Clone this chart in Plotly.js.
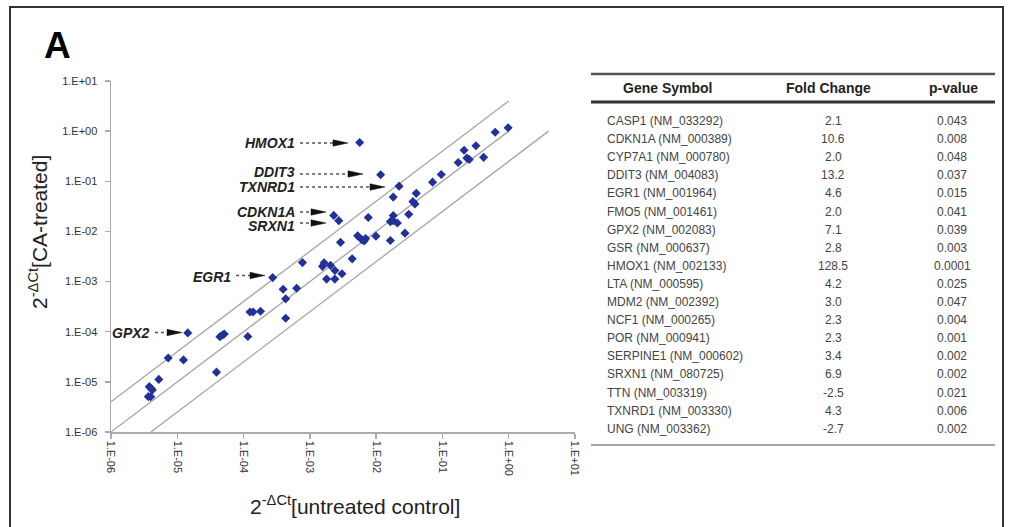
<!DOCTYPE html>
<html>
<head>
<meta charset="utf-8">
<script src="https://cdn.plot.ly/plotly-3.0.1.min.js"></script>
<style>html,body{margin:0;padding:0;background:#fff;}#chart{width:1010px;height:527px;}</style>
</head>
<body>
<div id="chart"></div>
<script>
// ---- Data ----
const untreatedControl = [0.98, 0.625, 0.32, 0.212, 0.173, 0.234, 0.254, 0.418, 0.096, 0.071,
  0.0117, 0.0222, 0.0403, 0.0181, 0.0359, 0.0385, 0.00564, 0.00229, 0.00273, 0.0076,
  0.0181, 0.031, 0.0164, 0.0181, 0.0209, 0.00526, 0.00611, 0.00662, 0.00695, 0.00993,
  0.0164, 0.0272, 0.0029, 0.00435, 0.00155, 0.00164, 0.00205, 0.00239, 0.00305, 0.00238,
  0.00179, 0.000773, 0.000275, 0.000395, 0.000632, 0.000432, 0.000432, 0.000125, 0.000139, 0.00018,
  0.000116, 0.000044, 0.0000484, 0.0000512, 0.000039, 0.0000144, 0.0000124, 0.0000073, 0.00000526, 0.00000378,
  0.00000401, 0.0000042, 0.00000366, 0.00000397];
const caTreated = [1.17, 0.95, 0.51, 0.416, 0.237, 0.29, 0.272, 0.30, 0.137, 0.096,
  0.135, 0.080, 0.0575, 0.0484, 0.0395, 0.0352, 0.594, 0.0209, 0.0164, 0.0189,
  0.0207, 0.0219, 0.0157, 0.0163, 0.0147, 0.00816, 0.00679, 0.00649, 0.00721, 0.00805,
  0.00658, 0.00925, 0.00605, 0.00284, 0.00201, 0.00236, 0.0021, 0.00166, 0.00143, 0.00112,
  0.00112, 0.00239, 0.0012, 0.000705, 0.000738, 0.000452, 0.000186, 0.000248, 0.000248, 0.000256,
  0.0000805, 0.0000798, 0.0000863, 0.0000903, 0.0000156, 0.0000946, 0.0000274, 0.00003, 0.0000112, 0.00000802,
  0.00000745, 0.00000689, 0.00000507, 0.00000507];

const foldLines = [4, 1, 0.25];

const tickValues = [1e-6, 1e-5, 1e-4, 1e-3, 1e-2, 1e-1, 1, 10];
const tickLabels = ['1.E-06', '1.E-05', '1.E-04', '1.E-03', '1.E-02', '1.E-01', '1.E+00', '1.E+01'];

const labelledGenes = ['HMOX1', 'DDIT3', 'TXNRD1', 'CDKN1A', 'SRXN1', 'EGR1', 'GPX2'];

const tableGenes = ['CASP1 (NM_033292)', 'CDKN1A (NM_000389)', 'CYP7A1 (NM_000780)', 'DDIT3 (NM_004083)',
  'EGR1 (NM_001964)', 'FMO5 (NM_001461)', 'GPX2 (NM_002083)', 'GSR (NM_000637)', 'HMOX1 (NM_002133)',
  'LTA (NM_000595)', 'MDM2 (NM_002392)', 'NCF1 (NM_000265)', 'POR (NM_000941)', 'SERPINE1 (NM_000602)',
  'SRXN1 (NM_080725)', 'TTN (NM_003319)', 'TXNRD1 (NM_003330)', 'UNG (NM_003362)'];
const foldChange = ['2.1', '10.6', '2.0', '13.2', '4.6', '2.0', '7.1', '2.8', '128.5', '4.2', '3.0', '2.3',
  '2.3', '3.4', '6.9', '-2.5', '4.3', '-2.7'];
const pValue = ['0.043', '0.008', '0.048', '0.037', '0.015', '0.041', '0.039', '0.003', '0.0001', '0.025',
  '0.047', '0.004', '0.001', '0.002', '0.002', '0.021', '0.006', '0.002'];
const tableHeaders = ['Gene Symbol', 'Fold Change', 'p-value'];

// ---- Layout helpers (pixel -> paper) ----
const W = 1010, H = 527;
const px = x => x / W;
const py = y => 1 - y / H;
const FONT = 'Liberation Sans, Arial, sans-serif';

// label placement (pixels): text right edge, text y, line start, head start, head end, arrow y
const labelPos = {
  HMOX1: [297, 143, 300, 333, 348, 143],
  DDIT3: [297, 172, 300, 348, 363, 174],
  TXNRD1: [297, 187, 300, 370, 385, 187],
  CDKN1A: [297, 212, 300, 311, 326, 212],
  SRXN1: [297, 225.5, 300, 311, 326, 223],
  EGR1: [233, 277, 236, 250, 265, 275.5],
  GPX2: [152, 333, 155, 167, 182, 332.5]
};

const traces = [];
foldLines.forEach(f => {
  const x0 = 1e-6 * Math.max(1, 1 / f), x1 = Math.max(1, 1 / f);
  traces.push({
    x: [x0, x1], y: [x0 * f, x1 * f], mode: 'lines', type: 'scatter',
    line: {color: '#a6a6a6', width: 1.3}, hoverinfo: 'skip'
  });
});
traces.push({
  x: untreatedControl, y: caTreated, mode: 'markers', type: 'scatter',
  marker: {symbol: 'diamond', size: 7, color: '#22309a'}
});

const shapes = [];
const annotations = [];

// frame
shapes.push({type: 'rect', xref: 'paper', yref: 'paper', x0: px(10), x1: px(1003), y0: py(540), y1: py(7),
  line: {color: '#333', width: 2}});

// gene labels with dotted arrows
labelledGenes.forEach(g => {
  const p = labelPos[g];
  annotations.push({xref: 'paper', yref: 'paper', x: px(p[0]), y: py(p[1]), xanchor: 'right', yanchor: 'middle',
    text: '<b><i>' + g + '</i></b>', showarrow: false, font: {family: FONT, size: 14, color: '#222'}});
  shapes.push({type: 'line', xref: 'paper', yref: 'paper', x0: px(p[2]), x1: px(p[3]), y0: py(p[5]), y1: py(p[5]),
    line: {color: '#555', width: 1.5, dash: 'dot'}});
  shapes.push({type: 'path', xref: 'paper', yref: 'paper',
    path: `M ${px(p[3])} ${py(p[5] - 3.2)} L ${px(p[4])} ${py(p[5])} L ${px(p[3])} ${py(p[5] + 3.2)} Z`,
    fillcolor: '#111', line: {color: '#111', width: 0.5}});
});

// panel letter
annotations.push({xref: 'paper', yref: 'paper', x: px(57), y: py(45), xanchor: 'center', yanchor: 'middle',
  text: '<b>A</b>', showarrow: false, font: {family: FONT, size: 37, color: '#000'}});

// axis titles
annotations.push({xref: 'paper', yref: 'paper', x: px(355), y: py(505), xanchor: 'center', yanchor: 'middle',
  text: '2<sup>-ΔCt</sup>[untreated control]', showarrow: false, font: {family: FONT, size: 21, color: '#222'}});
annotations.push({xref: 'paper', yref: 'paper', x: px(38), y: py(232), xanchor: 'center', yanchor: 'middle',
  textangle: -90, text: '2<sup>-ΔCt</sup>[CA-treated]', showarrow: false, font: {family: FONT, size: 21, color: '#222'}});

// table
const colX = [605, 833, 952];
const headerX = [667, 828, 953];
const headerY = 88, rowY0 = 121, rowStep = 18.1;
tableHeaders.forEach((h, i) => {
  annotations.push({xref: 'paper', yref: 'paper', x: px(headerX[i]), y: py(headerY),
    xanchor: 'center', yanchor: 'middle', text: '<b>' + h + '</b>', showarrow: false,
    font: {family: FONT, size: 14, color: '#222'}});
});
tableGenes.forEach((g, i) => {
  const y = py(rowY0 + i * rowStep);
  annotations.push({xref: 'paper', yref: 'paper', x: px(colX[0]), y: y, xanchor: 'left', yanchor: 'middle',
    text: g, showarrow: false, font: {family: FONT, size: 12, color: '#444'}});
  annotations.push({xref: 'paper', yref: 'paper', x: px(colX[1]), y: y, xanchor: 'center', yanchor: 'middle',
    text: foldChange[i], showarrow: false, font: {family: FONT, size: 12, color: '#444'}});
  annotations.push({xref: 'paper', yref: 'paper', x: px(colX[2]), y: y, xanchor: 'center', yanchor: 'middle',
    text: pValue[i], showarrow: false, font: {family: FONT, size: 12, color: '#444'}});
});
shapes.push({type: 'line', xref: 'paper', yref: 'paper', x0: px(591), x1: px(995), y0: py(74), y1: py(74),
  line: {color: '#555', width: 2.5}});
shapes.push({type: 'line', xref: 'paper', yref: 'paper', x0: px(591), x1: px(995), y0: py(102), y1: py(102),
  line: {color: '#333', width: 3}});
shapes.push({type: 'line', xref: 'paper', yref: 'paper', x0: px(591), x1: px(995), y0: py(445), y1: py(445),
  line: {color: '#888', width: 1.5}});

const axisCommon = {
  type: 'log', range: [-6, 1], tickmode: 'array', tickvals: tickValues, ticktext: tickLabels,
  ticks: 'outside', ticklen: 5, tickcolor: '#aaa', tickwidth: 1.3,
  showline: true, linecolor: '#aaa', linewidth: 1.5, showgrid: false, zeroline: false,
  tickfont: {family: FONT, size: 11, color: '#333'}, fixedrange: true
};

const layout = {
  width: W, height: H, margin: {l: 0, r: 0, t: 0, b: 0},
  paper_bgcolor: '#fff', plot_bgcolor: '#fff', showlegend: false,
  xaxis: Object.assign({}, axisCommon, {domain: [px(111), px(575)], tickangle: 90, anchor: 'y'}),
  yaxis: Object.assign({}, axisCommon, {domain: [py(432), py(81)], anchor: 'x', ticklabelstandoff: 5}),
  shapes: shapes, annotations: annotations
};

Plotly.newPlot('chart', traces, layout, {displayModeBar: false, staticPlot: true});
</script>
</body>
</html>
